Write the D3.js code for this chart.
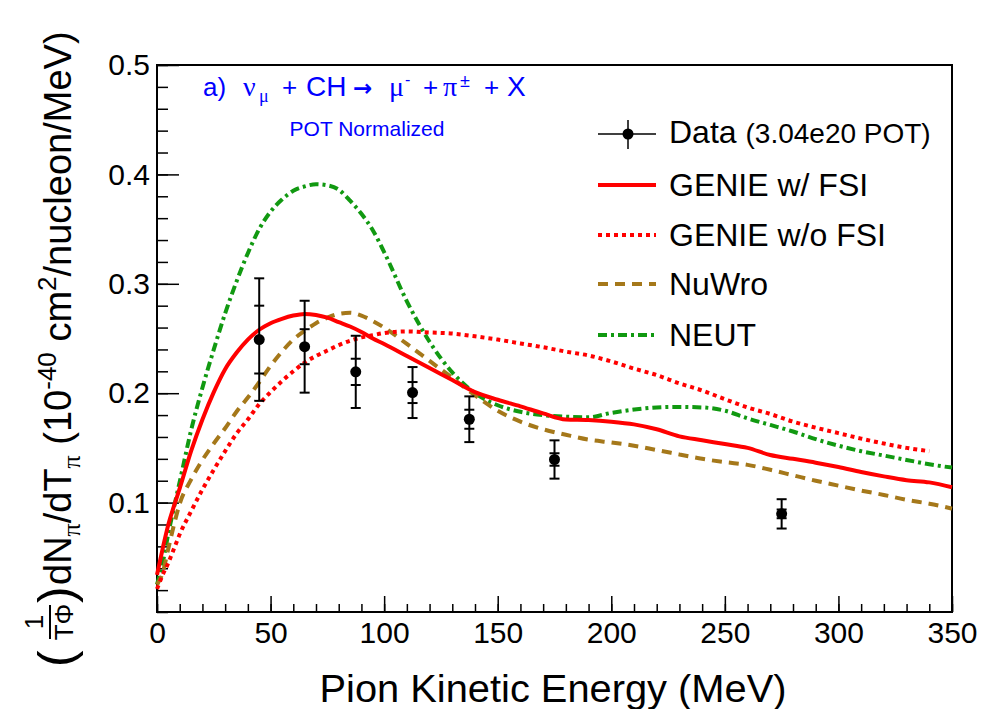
<!DOCTYPE html>
<html>
<head>
<meta charset="utf-8">
<script src="https://cdn.jsdelivr.net/npm/d3@7"></script>
<style>
  body { margin: 0; background: #fff; }
  svg text { font-family: "Liberation Sans", Arial, Helvetica, sans-serif; }
</style>
</head>
<body>
<svg width="984" height="709"></svg>
<script>
// pion kinetic energy grid for the model curves (MeV)
const energy = [0, 2.5, 5, 7.5, 10, 15, 20, 25, 30, 35, 40, 45, 50, 55, 60, 65, 70, 75, 80, 85, 90, 95, 100,
  110, 120, 130, 140, 150, 160, 170, 180, 190, 200, 210, 220, 230, 240, 250, 260, 270, 280, 290, 300,
  310, 320, 330, 340, 350]

const genieFsi = [0.034, 0.058, 0.080, 0.097, 0.113, 0.147, 0.176, 0.201, 0.222, 0.237, 0.249, 0.258, 0.264,
  0.268, 0.271, 0.2725, 0.2715, 0.269, 0.265, 0.261, 0.256, 0.250, 0.245,
  0.234, 0.223, 0.212, 0.201, 0.194, 0.188, 0.1815, 0.176, 0.1755, 0.174, 0.1715, 0.167, 0.1605, 0.157,
  0.1535, 0.150, 0.1435, 0.140, 0.1365, 0.1325, 0.128, 0.124, 0.1205, 0.1185, 0.114]

const genieNoFsi = [0.021, 0.034, 0.045, 0.058, 0.071, 0.092, 0.112, 0.130, 0.147, 0.163, 0.176, 0.190, 0.201,
  0.211, 0.220, 0.228, 0.234, 0.239, 0.244, 0.248, 0.251, 0.253, 0.255,
  0.2565, 0.2555, 0.2545, 0.252, 0.249, 0.2455, 0.242, 0.238, 0.2345, 0.229, 0.2225, 0.2165, 0.209, 0.2025,
  0.1945, 0.187, 0.181, 0.174, 0.1685, 0.1635, 0.1585, 0.154, 0.150, 0.147, null]

const nuwro = [0.025, 0.036, 0.058, 0.080, 0.099, 0.121, 0.139, 0.154, 0.168, 0.183, 0.196, 0.210, 0.225,
  0.238, 0.249, 0.257, 0.264, 0.269, 0.2725, 0.2735, 0.271, 0.266, 0.260,
  0.245, 0.2295, 0.214, 0.198, 0.184, 0.174, 0.167, 0.162, 0.1575, 0.155, 0.152, 0.148, 0.144, 0.140,
  0.137, 0.1345, 0.130, 0.125, 0.120, 0.1155, 0.111, 0.107, 0.1025, 0.099, 0.0945]

const neut = [0.025, 0.045, 0.072, 0.096, 0.119, 0.166, 0.205, 0.240, 0.273, 0.302, 0.328, 0.350, 0.366,
  0.377, 0.385, 0.389, 0.391, 0.390, 0.386, 0.376, 0.364, 0.349, 0.329,
  0.284, 0.247, 0.219, 0.200, 0.189, 0.183, 0.180, 0.1785, 0.178, 0.182, 0.185, 0.187, 0.1875, 0.187,
  0.184, 0.177, 0.171, 0.165, 0.158, 0.152, 0.147, 0.143, 0.139, 0.135, 0.132]

// measured points
const dataX = [45, 65, 87.5, 112.5, 137.5, 175, 275]
const dataY = [0.249, 0.2425, 0.2195, 0.2006, 0.1762, 0.1394, 0.0897]
const statErr = [0.031, 0.016, 0.012, 0.0096, 0.0087, 0.0057, 0.004]
const totErr = [0.056, 0.042, 0.033, 0.0233, 0.0209, 0.0175, 0.0134]

const xTicks = [0, 50, 100, 150, 200, 250, 300, 350]
const yTicks = [0.1, 0.2, 0.3, 0.4, 0.5]

const svg = d3.select("svg")

const plotLeft = 157, plotRight = 952, plotTop = 65, plotBottom = 612

const x = d3.scaleLinear().domain([0, 350]).range([plotLeft, plotRight])
const y = d3.scaleLinear().domain([0, 0.5]).range([plotBottom, plotTop])

// minor ticks
svg.append("g")
  .attr("transform", "translate(0," + plotBottom + ")")
  .call(d3.axisBottom(x).tickValues(d3.range(0, 351, 10)).tickSize(-8).tickFormat(""))
  .call(g => g.select(".domain").remove())
svg.append("g")
  .attr("transform", "translate(" + plotLeft + ",0)")
  .call(d3.axisLeft(y).tickValues(d3.range(0, 0.501, 0.02)).tickSize(-11).tickFormat(""))
  .call(g => g.select(".domain").remove())

// major ticks with labels
const xAxis = svg.append("g")
  .attr("transform", "translate(0," + plotBottom + ")")
  .call(d3.axisBottom(x).tickValues(xTicks).tickSize(-16).tickPadding(10).tickFormat(d3.format("d")))
xAxis.select(".domain").remove()
xAxis.selectAll("text").attr("font-size", 30).attr("fill", "#000")

const yAxis = svg.append("g")
  .attr("transform", "translate(" + plotLeft + ",0)")
  .call(d3.axisLeft(y).tickValues(yTicks).tickSize(-22).tickPadding(7).tickFormat(d3.format(".1f")))
yAxis.select(".domain").remove()
yAxis.selectAll("text").attr("font-size", 30).attr("fill", "#000")

svg.selectAll(".tick line").attr("stroke", "#000").attr("stroke-width", 1.5)

// frame
svg.append("rect")
  .attr("x", plotLeft).attr("y", plotTop)
  .attr("width", plotRight - plotLeft).attr("height", plotBottom - plotTop)
  .attr("fill", "none").attr("stroke", "#000").attr("stroke-width", 2)

// model curves
const series = [
  { name: "GENIE w/ FSI", values: genieFsi, color: "#ff0000", dash: null },
  { name: "GENIE w/o FSI", values: genieNoFsi, color: "#ff0000", dash: "4,4" },
  { name: "NuWro", values: nuwro, color: "#a5781a", dash: "10,7" },
  { name: "NEUT", values: neut, color: "#119911", dash: "9,4,3,4" }
]

const line = d3.line()
  .defined(d => d[1] != null)
  .x(d => x(d[0]))
  .y(d => y(d[1]))
  .curve(d3.curveMonotoneX)

const plot = svg.append("g")
plot.selectAll("path.model")
  .data(series.slice().reverse())
  .enter()
  .append("path")
  .attr("class", "model")
  .attr("d", s => line(energy.map((e, i) => [e, s.values[i]])))
  .attr("fill", "none")
  .attr("stroke", s => s.color)
  .attr("stroke-width", 4)
  .attr("stroke-dasharray", s => s.dash)

// data points
const pts = plot.selectAll("g.pt")
  .data(dataX.map((d, i) => i))
  .enter()
  .append("g")
  .attr("class", "pt")

pts.append("line")
  .attr("x1", i => x(dataX[i])).attr("x2", i => x(dataX[i]))
  .attr("y1", i => y(dataY[i] + totErr[i])).attr("y2", i => y(dataY[i] - totErr[i]))
  .attr("stroke", "#000").attr("stroke-width", 2)

const caps = i => [totErr[i], -totErr[i], statErr[i], -statErr[i]]
pts.selectAll("line.cap")
  .data(i => caps(i).map(e => [dataX[i], dataY[i] + e]))
  .enter()
  .append("line")
  .attr("class", "cap")
  .attr("x1", d => x(d[0]) - 5).attr("x2", d => x(d[0]) + 5)
  .attr("y1", d => y(d[1])).attr("y2", d => y(d[1]))
  .attr("stroke", "#000").attr("stroke-width", 2)

pts.append("circle")
  .attr("cx", i => x(dataX[i]))
  .attr("cy", i => y(dataY[i]))
  .attr("r", 5.5)
  .attr("fill", "#000")

// legend
const legend = svg.append("g")
const rowY = [134, 185, 235, 284, 335]
legend.append("line").attr("x1", 598).attr("x2", 656).attr("y1", rowY[0]).attr("y2", rowY[0])
  .attr("stroke", "#000").attr("stroke-width", 1.5)
legend.append("line").attr("x1", 628).attr("x2", 628).attr("y1", rowY[0] - 14).attr("y2", rowY[0] + 15)
  .attr("stroke", "#000").attr("stroke-width", 1.5)
legend.append("circle").attr("cx", 628).attr("cy", rowY[0]).attr("r", 5.5).attr("fill", "#000")
const dataLabel = legend.append("text").attr("x", 669).attr("y", rowY[0] + 9).attr("font-size", 32)
dataLabel.append("tspan").text("Data ")
dataLabel.append("tspan").attr("font-size", 28).text("(3.04e20 POT)")

series.forEach((s, i) => {
  legend.append("line")
    .attr("x1", 598).attr("x2", 656)
    .attr("y1", rowY[i + 1]).attr("y2", rowY[i + 1])
    .attr("stroke", s.color).attr("stroke-width", 4)
    .attr("stroke-dasharray", s.dash)
  legend.append("text")
    .attr("x", 669).attr("y", rowY[i + 1] + 11)
    .attr("font-size", 32)
    .text(s.name)
})

// reaction label, pieces placed like the ROOT latex string
const greek = "'Liberation Serif', 'DejaVu Serif', serif"
const title = svg.append("text").attr("y", 96).attr("font-size", 26).attr("fill", "#0000ff")
title.append("tspan").attr("x", 203).text("a)")
title.append("tspan").attr("x", 243).attr("font-family", greek).attr("font-size", 28).text("ν")
title.append("tspan").attr("x", 259).attr("font-family", greek).attr("font-size", 18).attr("dy", 6).text("μ")
title.append("tspan").attr("x", 282).attr("dy", -6).text("+")
title.append("tspan").attr("x", 306).attr("font-size", 28).text("CH")
title.append("tspan").attr("x", 353).attr("font-family", "'DejaVu Sans', sans-serif")
  .attr("font-size", 23).attr("font-weight", "bold").text("→")
title.append("tspan").attr("x", 389).attr("font-family", greek).attr("font-size", 28).text("μ")
title.append("tspan").attr("x", 405).attr("font-size", 16).attr("dy", -11).text("-")
title.append("tspan").attr("x", 423).attr("dy", 11).text("+")
title.append("tspan").attr("x", 443).attr("font-family", greek).attr("font-size", 28).text("π")
title.append("tspan").attr("x", 460).attr("font-size", 18).attr("dy", -9).text("±")
title.append("tspan").attr("x", 484).attr("dy", 9).text("+")
title.append("tspan").attr("x", 507).attr("font-size", 28).text("X")

svg.append("text").attr("x", 367).attr("y", 136).attr("text-anchor", "middle")
  .attr("font-size", 21).attr("fill", "#0000ff").text("POT Normalized")

// x axis title
svg.append("text").attr("x", 553).attr("y", 702).attr("text-anchor", "middle")
  .attr("font-size", 39).attr("textLength", 467).attr("lengthAdjust", "spacingAndGlyphs")
  .text("Pion Kinetic Energy (MeV)")

// y axis title (rotated)
const yt = svg.append("g").attr("transform", "translate(71,667) rotate(-90)")
yt.append("text").attr("x", 0).attr("y", 2).attr("font-size", 50).text("(")
yt.append("text").attr("x", 45).attr("y", -28).attr("font-size", 26).attr("text-anchor", "middle").text("1")
yt.append("line").attr("x1", 28).attr("x2", 62).attr("y1", -21).attr("y2", -21).attr("stroke", "#000").attr("stroke-width", 2)
yt.append("text").attr("x", 45).attr("y", 2).attr("font-size", 26).attr("text-anchor", "middle").text("TΦ")
yt.append("text").attr("x", 64).attr("y", 2).attr("font-size", 50).text(")")
const ytxt = yt.append("text").attr("x", 82).attr("y", 0).attr("font-size", 38)
ytxt.append("tspan").text("dN")
ytxt.append("tspan").attr("font-family", greek).attr("font-size", 26).attr("dy", 9).text("π")
ytxt.append("tspan").attr("dy", -9).text("/dT")
ytxt.append("tspan").attr("font-family", greek).attr("font-size", 26).attr("dy", 9).text("π")
ytxt.append("tspan").attr("dy", -9).text("  (10")
ytxt.append("tspan").attr("font-size", 26).attr("dy", -15).text("-40")
ytxt.append("tspan").attr("dy", 15).text(" cm")
ytxt.append("tspan").attr("font-size", 26).attr("dy", -15).text("2")
ytxt.append("tspan").attr("dy", 15).text("/nucleon/MeV)")
</script>
</body>
</html>
